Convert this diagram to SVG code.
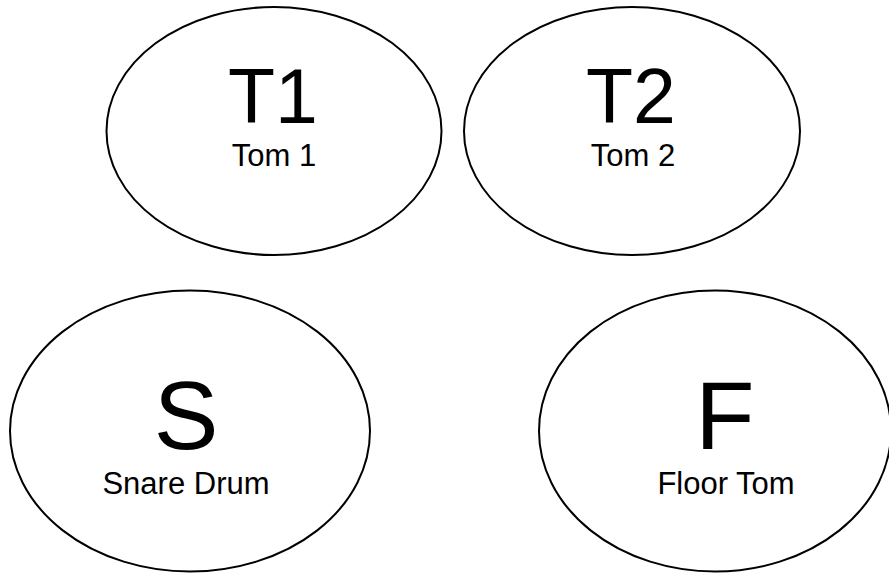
<svg xmlns="http://www.w3.org/2000/svg" width="889" height="573" viewBox="0 0 889 573">
<style>
.node{fill:#fff;stroke:#000;stroke-width:2}
text{font-family:"Liberation Sans",Arial,sans-serif;fill:#000;text-anchor:middle}
.big{font-size:77px}
.huge{font-size:97px}
.lbl{font-size:31px}
</style>
<rect width="889" height="573" fill="#fff"/>
<g id="connectors"></g>
<g id="T1">
<ellipse class="node" cx="274" cy="131" rx="167.5" ry="124"/>
<text class="big" x="273" y="123">T1</text>
<text class="lbl" x="274" y="166">Tom 1</text>
</g>
<g id="T2">
<ellipse class="node" cx="632" cy="131" rx="168" ry="124"/>
<text class="big" x="631" y="123">T2</text>
<text class="lbl" x="633" y="166">Tom 2</text>
</g>
<g id="S">
<ellipse class="node" cx="190" cy="431" rx="180" ry="140.5"/>
<text class="huge" x="186" y="449">S</text>
<text class="lbl" x="186" y="494">Snare Drum</text>
</g>
<g id="F">
<ellipse class="node" cx="715" cy="431" rx="176" ry="140.5"/>
<text class="huge" x="725" y="449">F</text>
<text class="lbl" x="726" y="494">Floor Tom</text>
</g>
</svg>
